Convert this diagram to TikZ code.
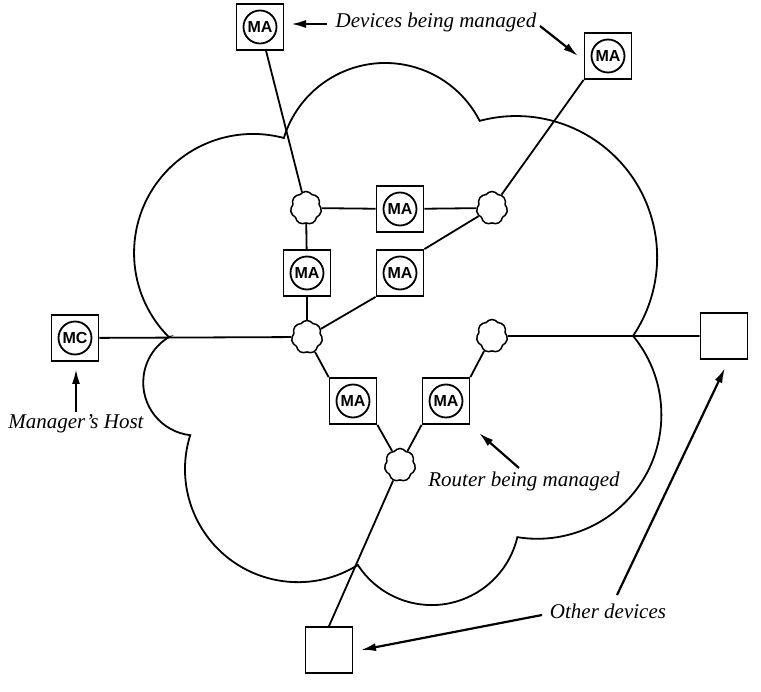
\documentclass[tikz,border=0pt]{standalone}
\usepackage{fontspec}
\setmainfont{Liberation Serif}
\newfontfamily\masans{Liberation Sans}
\usetikzlibrary{shapes.symbols,arrows.meta}
\begin{document}
\begin{tikzpicture}[x=1pt,y=-1pt,
  conn/.style={line width=1.8pt},
  dev/.style={draw,line width=1.8pt,minimum width=47pt,minimum height=46pt,inner sep=0pt},
  agc/.style={circle,draw,line width=1.8pt,minimum size=33pt,inner sep=0pt,font=\masans\bfseries\fontsize{16}{16}\selectfont},
  rt/.style={cloud,cloud puffs=7,cloud puff arc=110,aspect=1,draw,line width=1.5pt,minimum width=31pt,minimum height=33pt,inner sep=0pt,fill=white},
  txt/.style={font=\itshape\fontsize{21}{24}\selectfont,inner sep=0pt},
  lab/.style={line width=2.2pt,-{Latex[length=15pt,width=8pt]}}]
\useasboundingbox (0,0) rectangle (761,692);
% big cloud
\draw[line width=1.8pt] (168.9,337.1)
  arc[start angle=135,end angle=285,radius=119]
  arc[start angle=197,end angle=333,radius=106]
  arc[start angle=255,end angle=394,radius=141]
  arc[start angle=-39.5,end angle=99.3,radius=124]
  arc[start angle=13.2,end angle=147,radius=88]
  arc[start angle=58,end angle=197.5,radius=113]
  arc[start angle=96.5,end angle=239,radius=53] -- cycle;
% devices
\node[dev] (m1) at (260,27) {};  \node[agc] (m1c) at (m1) {MA};
\node[dev] (m2) at (608,56) {};  \node[agc] (m2c) at (m2) {MA};
\node[dev] (m3) at (400,209) {}; \node[agc] (m3c) at (m3) {MA};
\node[dev] (m4) at (307,273) {}; \node[agc] (m4c) at (m4) {MA};
\node[dev] (m5) at (400,273) {}; \node[agc] (m5c) at (m5) {MA};
\node[dev] (m6) at (353,401) {}; \node[agc] (m6c) at (m6) {MA};
\node[dev] (m7) at (446,401) {}; \node[agc] (m7c) at (m7) {MA};
\node[dev] (mc) at (75,338) {};  \node[agc] (mcc) at (mc) {MC};
\node[dev] (od1) at (724,336) {};
\node[dev] (od2) at (329,650) {};
% routers
\node[rt] (r1) at (306,208) {};
\node[rt] (r2) at (492,208) {};
\node[rt] (r3) at (307,337) {};
\node[rt] (r4) at (492,336) {};
\node[rt] (r5) at (400,465) {};
% connectors
\draw[conn] (m1) -- (r1);
\draw[conn] (m2.south west) -- (r2);
\draw[conn] (r1) -- (m3);
\draw[conn] (m3) -- (r2);
\draw[conn] (r1) -- (m4);
\draw[conn] (m4) -- (r3);
\draw[conn] (m5.north east) -- (r2);
\draw[conn] (r3) -- (m5.south west);
\draw[conn] (mc) -- (r3);
\draw[conn] (r4) -- (od1);
\draw[conn] (r3) -- (m6.north west);
\draw[conn] (r4) -- (m7.north east);
\draw[conn] (m6.south east) -- (r5);
\draw[conn] (m7.south west) -- (r5);
\draw[conn] (r5) -- (od2.north);
% labels
\node[txt] (t1) at (436,22) {Devices being managed};
\node[txt] (t2) at (76,424) {Manager's Host};
\node[txt] (t3) at (524,481) {Router being managed};
\node[txt] (t4) at (608,611) {Other devices};
\coordinate (a1s) at (327,24);  \coordinate (a1e) at (291,24);
\coordinate (a2s) at (540,26);  \coordinate (a2e) at (578,56);
\coordinate (a3s) at (76,412);  \coordinate (a3e) at (76,369);
\coordinate (a4s) at (519,468); \coordinate (a4e) at (479,433);
\coordinate (a5s) at (542,615); \coordinate (a5e) at (361,650);
\coordinate (a6s) at (617,595); \coordinate (a6e) at (725,368);
\draw[lab] (a1s) -- (a1e);
\draw[lab] (a2s) -- (a2e);
\draw[lab] (a3s) -- (a3e);
\draw[lab] (a4s) -- (a4e);
\draw[lab] (a5s) -- (a5e);
\draw[lab] (a6s) -- (a6e);
\end{tikzpicture}
\end{document}
